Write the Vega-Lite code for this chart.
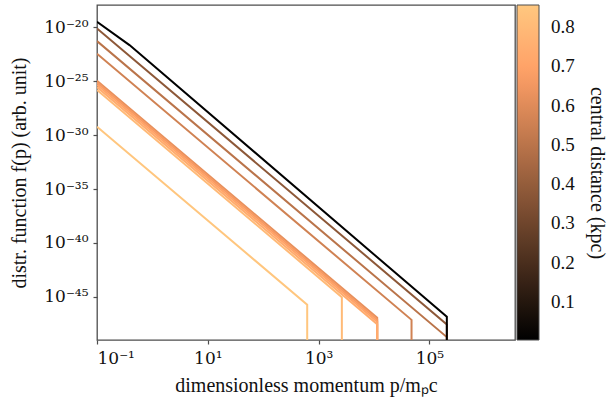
{
  "$schema": "https://vega.github.io/schema/vega-lite/v6.json",
  "width": 418,
  "height": 335,
  "autosize": {"type": "none"},
  "padding": {"left": 97, "top": 5, "right": 96, "bottom": 64},
  "background": "white",
  "config": {
    "font": "Liberation Serif",
    "view": {"stroke": "#4d4d4d", "strokeWidth": 1.3},
    "axis": {
      "grid": false,
      "domain": false,
      "tickColor": "#4d4d4d",
      "tickSize": 4,
      "tickWidth": 1.2,
      "labelFont": "DejaVu Serif",
      "labelFontSize": 17,
      "labelColor": "#111",
      "titleFont": "Liberation Serif",
      "titleFontSize": 20,
      "titleFontWeight": "normal",
      "titleColor": "#111"
    },
    "legend": {
      "labelFont": "Liberation Serif",
      "titleFont": "Liberation Serif"
    }
  },
  "data": {
    "values": [
      {"id": "b", "d": 0.38, "o": 1, "p": 0.1, "f": 8.1e-21},
      {"id": "b", "d": 0.38, "o": 2, "p": 206000, "f": 2.8e-48},
      {"id": "b", "d": 0.38, "o": 3, "p": 206000, "f": 1e-60},
      {"id": "c", "d": 0.50, "o": 1, "p": 0.1, "f": 5.4e-22},
      {"id": "c", "d": 0.50, "o": 2, "p": 206000, "f": 1.86e-49},
      {"id": "c", "d": 0.50, "o": 3, "p": 206000, "f": 1e-60},
      {"id": "d", "d": 0.56, "o": 1, "p": 0.1, "f": 3.6e-23},
      {"id": "d", "d": 0.56, "o": 2, "p": 47500, "f": 7.4e-48},
      {"id": "d", "d": 0.56, "o": 3, "p": 47500, "f": 1e-60},
      {"id": "e", "d": 0.62, "o": 1, "p": 0.1, "f": 1.15e-25},
      {"id": "e", "d": 0.62, "o": 2, "p": 11400, "f": 1.15e-47},
      {"id": "e", "d": 0.62, "o": 3, "p": 11400, "f": 1e-60},
      {"id": "f", "d": 0.66, "o": 1, "p": 0.1, "f": 7.6e-26},
      {"id": "f", "d": 0.66, "o": 2, "p": 11400, "f": 7.6e-48},
      {"id": "f", "d": 0.66, "o": 3, "p": 11400, "f": 1e-60},
      {"id": "g", "d": 0.70, "o": 1, "p": 0.1, "f": 4.9e-26},
      {"id": "g", "d": 0.70, "o": 2, "p": 11400, "f": 4.9e-48},
      {"id": "g", "d": 0.70, "o": 3, "p": 11400, "f": 1e-60},
      {"id": "h", "d": 0.74, "o": 1, "p": 0.1, "f": 2.9e-26},
      {"id": "h", "d": 0.74, "o": 2, "p": 11400, "f": 2.9e-48},
      {"id": "h", "d": 0.74, "o": 3, "p": 11400, "f": 1e-60},
      {"id": "i", "d": 0.80, "o": 1, "p": 0.1, "f": 1.58e-26},
      {"id": "i", "d": 0.80, "o": 2, "p": 2625, "f": 9.5e-46},
      {"id": "i", "d": 0.80, "o": 3, "p": 2625, "f": 1e-60},
      {"id": "j", "d": 0.85, "o": 1, "p": 0.1, "f": 6.0e-30},
      {"id": "j", "d": 0.85, "o": 2, "p": 622, "f": 1.9e-46},
      {"id": "j", "d": 0.85, "o": 3, "p": 622, "f": 1e-60},
      {"id": "z", "d": 0.0033, "o": 1, "p": 0.1, "f": 3.3e-20},
      {"id": "z", "d": 0.0033, "o": 2, "p": 0.386, "f": 2.3e-22},
      {"id": "z", "d": 0.0033, "o": 3, "p": 206000, "f": 1.41e-47},
      {"id": "z", "d": 0.0033, "o": 4, "p": 206000, "f": 1e-60}
    ]
  },
  "mark": {"type": "line", "clip": true, "strokeWidth": 2},
  "encoding": {
    "x": {
      "field": "p",
      "type": "quantitative",
      "scale": {"type": "log", "domain": [0.1, 3500000], "nice": false},
      "axis": {
        "values": [0.1, 10, 1000, 100000],
        "labelExpr": "datum.value < 1 ? '10⁻¹' : datum.value < 100 ? '10¹' : datum.value < 10000 ? '10³' : '10⁵'",
        "labelPadding": 6,
        "title": "dimensionless momentum p/mₚc",
        "titlePadding": 9
      }
    },
    "y": {
      "field": "f",
      "type": "quantitative",
      "scale": {"type": "log", "domain": [1e-49, 1.2e-18], "nice": false},
      "axis": {
        "values": [1e-45, 1e-40, 1e-35, 1e-30, 1e-25, 1e-20],
        "labelExpr": "datum.value < 1e-44 ? '10⁻⁴⁵' : datum.value < 1e-39 ? '10⁻⁴⁰' : datum.value < 1e-34 ? '10⁻³⁵' : datum.value < 1e-29 ? '10⁻³⁰' : datum.value < 1e-24 ? '10⁻²⁵' : '10⁻²⁰'",
        "labelPadding": 5,
        "title": "distr. function f(p) (arb. unit)",
        "titlePadding": 14
      }
    },
    "color": {
      "field": "d",
      "type": "quantitative",
      "scale": {"domain": [0.0033, 0.685, 0.856], "range": ["#000000", "#ff9f66", "#ffc77f"], "interpolate": "rgb"},
      "legend": {
        "orient": "right",
        "offset": 2,
        "padding": 0,
        "gradientLength": 335,
        "gradientThickness": 22,
        "gradientStrokeColor": "#4d4d4d",
        "gradientStrokeWidth": 1,
        "values": [0.1, 0.2, 0.3, 0.4, 0.5, 0.6, 0.7, 0.8],
        "format": ".1f",
        "labelFontSize": 19,
        "labelColor": "#111",
        "labelOffset": 12,
        "title": "central distance (kpc)",
        "titleOrient": "right",
        "titleFontSize": 20,
        "titleFontWeight": "normal",
        "titleColor": "#111",
        "titlePadding": 12
      }
    },
    "detail": {"field": "id"},
    "order": {"field": "o", "type": "quantitative"}
  }
}
